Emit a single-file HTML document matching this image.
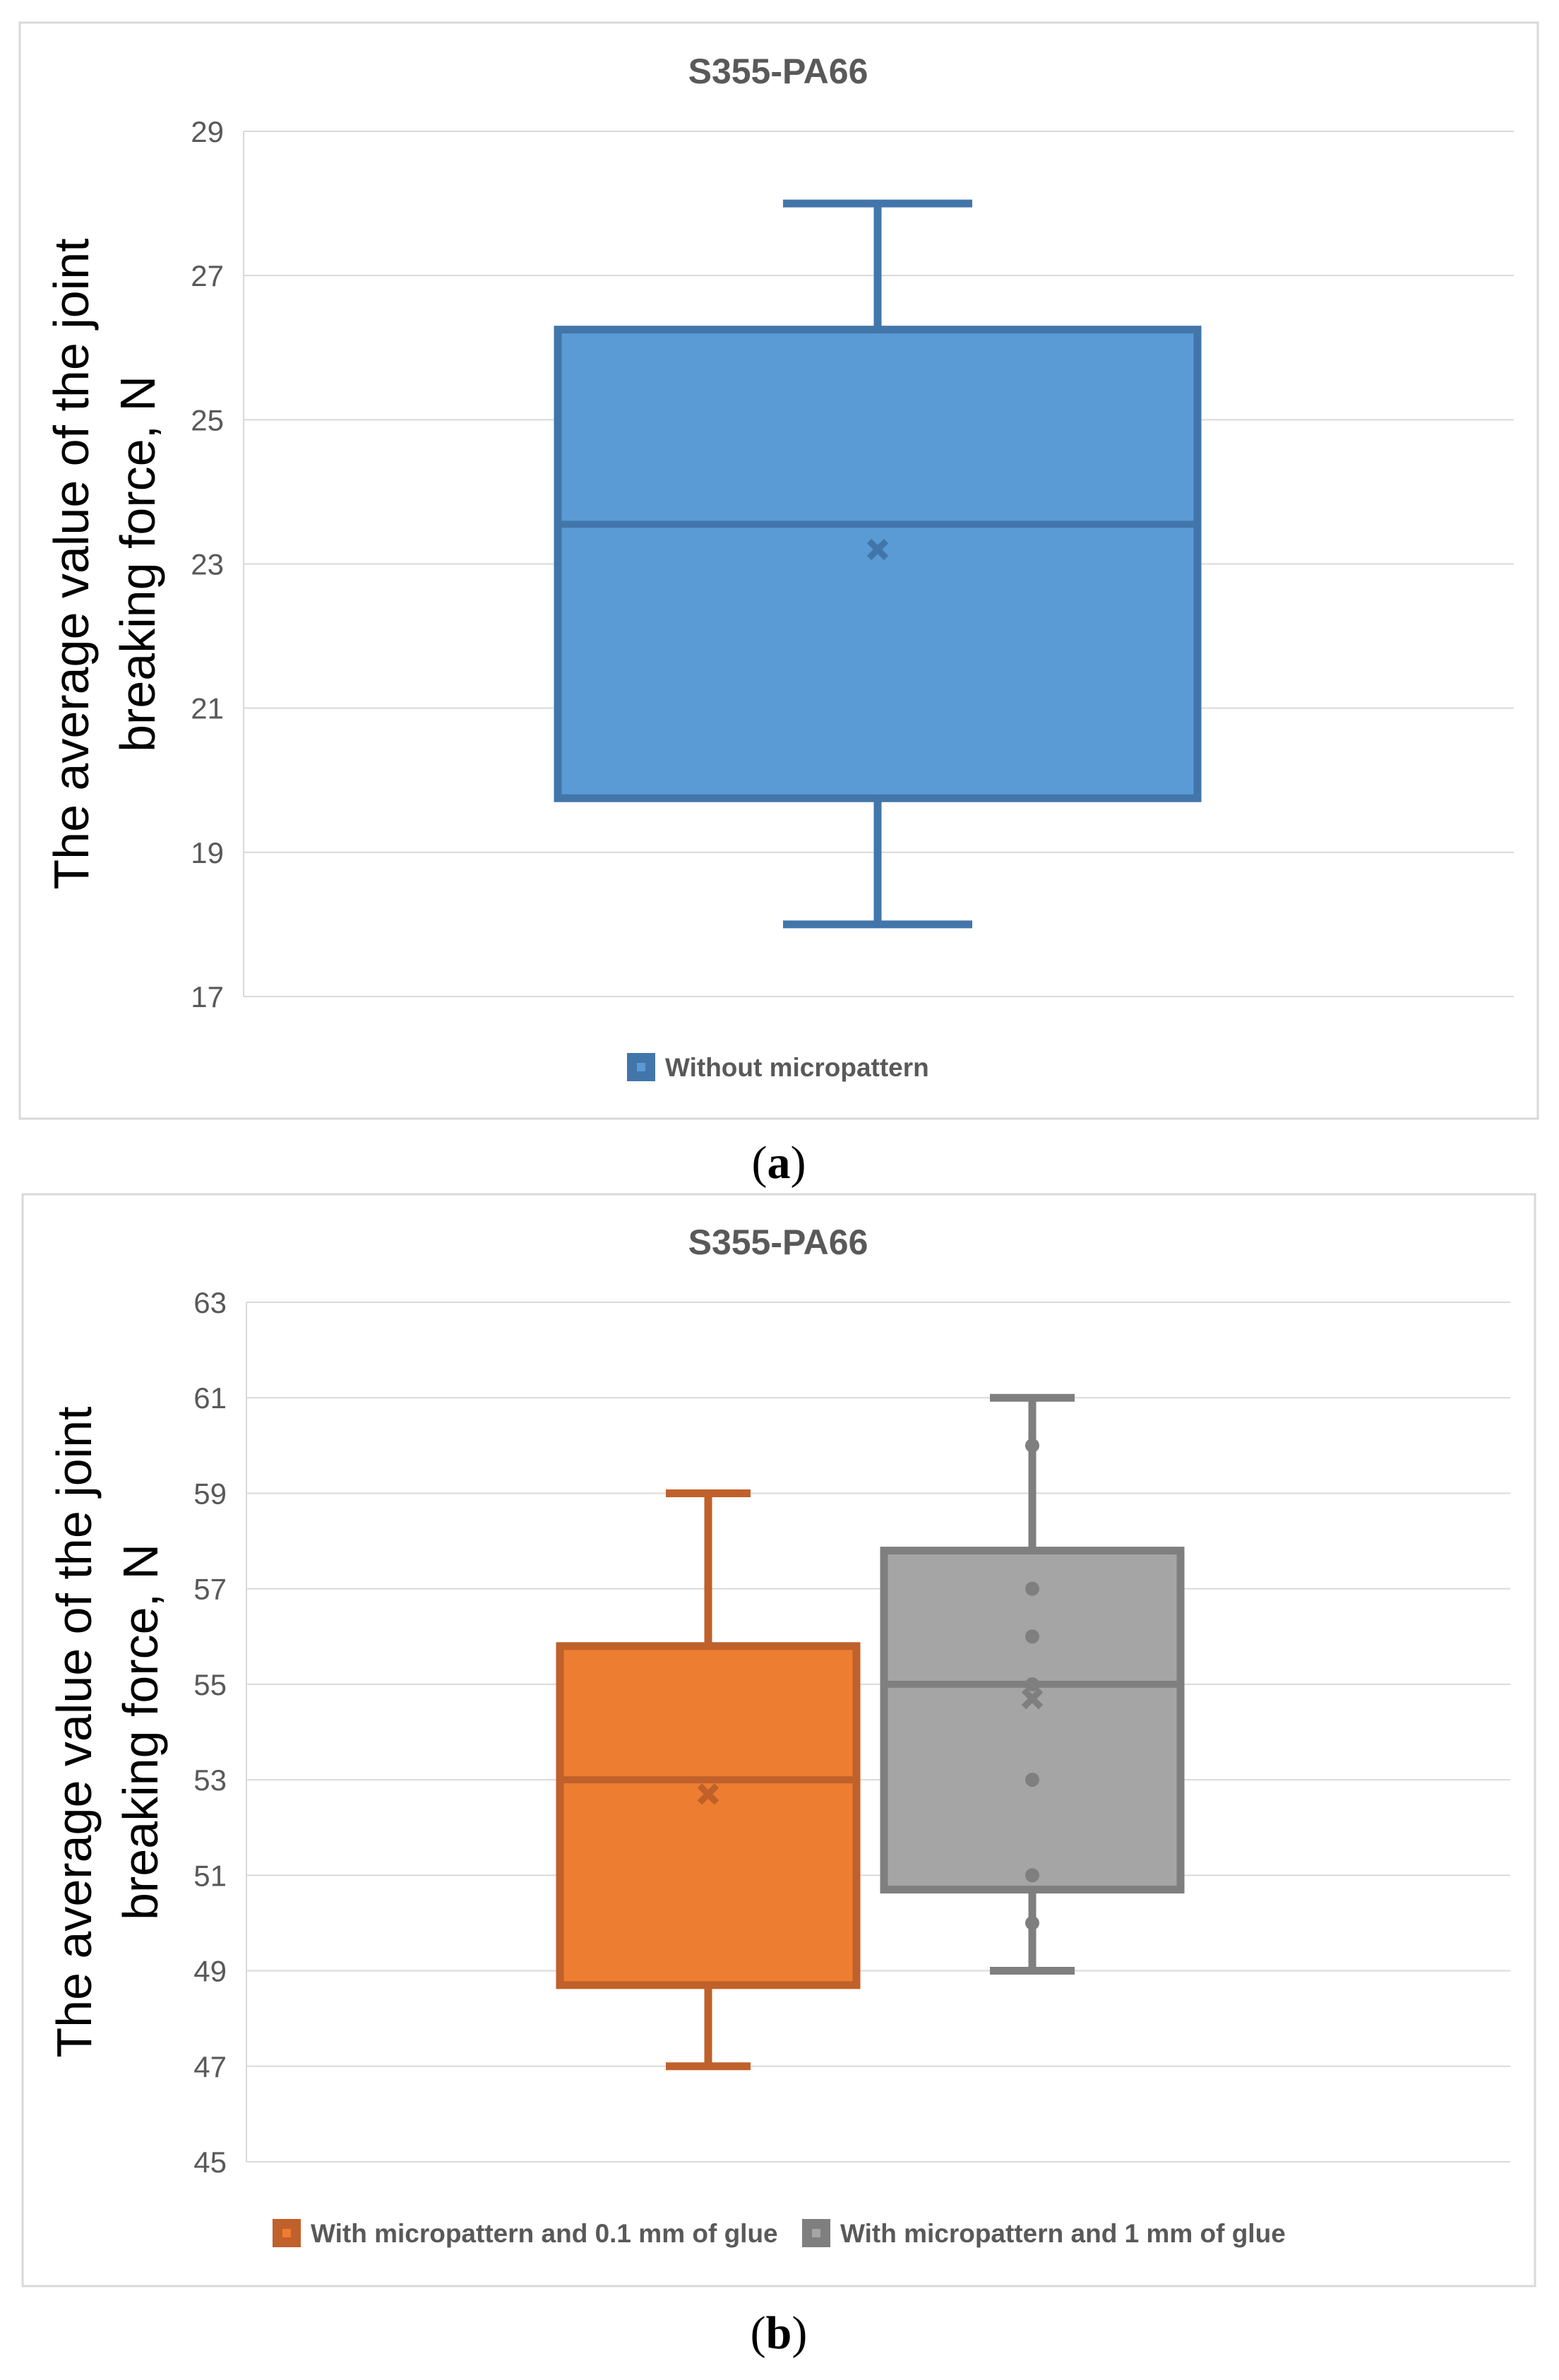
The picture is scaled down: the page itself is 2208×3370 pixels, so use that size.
<!DOCTYPE html>
<html><head><meta charset="utf-8"><style>
html,body{margin:0;padding:0;background:#fff;}
svg{display:block;font-family:"Liberation Sans",sans-serif;}
</style></head><body>
<svg id="fig" width="2208" height="3370" viewBox="0 0 2208 3370" xmlns="http://www.w3.org/2000/svg">
<g id="chartA"></g>
<g id="chartB"></g>
</svg>
<script>
// Chart A data
const ticksA = [17,19,21,23,25,27,29];
const catsA = ["Without micropattern"];
const q1A = [19.75], q3A = [26.25], medA = [23.55], meanA = [23.2], minA = [18], maxA = [28];
const ptsA = [[]];
// Chart B data
const ticksB = [45,47,49,51,53,55,57,59,61,63];
const catsB = ["With micropattern and 0.1 mm of glue","With micropattern and 1 mm of glue"];
const q1B = [48.7, 50.7], q3B = [55.8, 57.8], medB = [53, 55], meanB = [52.7, 54.7], minB = [47, 49], maxB = [59, 61];
const ptsB = [[], [60,57,56,55,53,51,50]];

const NS="http://www.w3.org/2000/svg";
function mk(parent, tag, attrs, text){
  const e=document.createElementNS(NS,tag);
  for(const k in attrs) e.setAttribute(k,attrs[k]);
  if(text!==undefined) e.textContent=text;
  parent.appendChild(e); return e;
}
function drawChart(g, cfg){
  const {frame, plot, ticks, cats, q1,q3,med,mean,mn,mx,pts, centers, boxW, capW, fills, strokes, title, titleY, legend, label, labelY, ytitleX} = cfg;
  const y0=ticks[0], y1=ticks[ticks.length-1];
  const yScale=v=>plot.b-(v-y0)/(y1-y0)*(plot.b-plot.t);
  let e=mk(g,'rect',{x:frame.x,y:frame.y,width:frame.w,height:frame.h,fill:'#fff',stroke:'#d9d9d9','stroke-width':3});
   
  e=mk(g,'text',{x:1102,y:titleY,'text-anchor':'middle','font-size':50,'font-weight':'bold',fill:'#595959','font-family':'"Liberation Sans Narrow","Liberation Sans",sans-serif'},title);
   
  ticks.forEach(t=>{
    const y=yScale(t);
    let l=mk(g,'line',{x1:plot.l,x2:plot.r,y1:y,y2:y,stroke:'#d9d9d9','stroke-width':2});
     
    let tx=mk(g,'text',{x:plot.l-28,y:y+15,'text-anchor':'end','font-size':42,fill:'#595959','font-family':'"Liberation Sans Narrow","Liberation Sans",sans-serif'},String(t));
     
  });
  let ax=mk(g,'line',{x1:plot.l,x2:plot.l,y1:plot.t,y2:plot.b,stroke:'#d9d9d9','stroke-width':2});
   
  const cy=(plot.t+plot.b)/2;
  let yt=mk(g,'text',{transform:`translate(${ytitleX},${cy}) rotate(-90)`,'text-anchor':'middle','font-size':70,fill:'#000'});
   
  mk(yt,'tspan',{x:0,dy:0},'The average value of the joint');
  mk(yt,'tspan',{x:0,dy:94},'breaking force, N');
  cats.forEach((c,i)=>{
    const cx=centers[i], s=strokes[i];
    const bg=mk(g,'g',{});
     
    let w1=mk(bg,'line',{x1:cx,x2:cx,y1:yScale(mx[i]),y2:yScale(q3[i]),stroke:s,'stroke-width':11});
     
    let w2=mk(bg,'line',{x1:cx,x2:cx,y1:yScale(q1[i]),y2:yScale(mn[i]),stroke:s,'stroke-width':11});
     
    let c1=mk(bg,'line',{x1:cx-capW/2,x2:cx+capW/2,y1:yScale(mx[i]),y2:yScale(mx[i]),stroke:s,'stroke-width':11});
     
    let c2=mk(bg,'line',{x1:cx-capW/2,x2:cx+capW/2,y1:yScale(mn[i]),y2:yScale(mn[i]),stroke:s,'stroke-width':11});
     
    let r=mk(bg,'rect',{x:cx-boxW/2,y:yScale(q3[i]),width:boxW,height:yScale(q1[i])-yScale(q3[i]),fill:fills[i],stroke:s,'stroke-width':11});
     
    let m=mk(bg,'line',{x1:cx-boxW/2,x2:cx+boxW/2,y1:yScale(med[i]),y2:yScale(med[i]),stroke:s,'stroke-width':10});
     
    pts[i].forEach(p=>{
      let d=mk(bg,'circle',{cx:cx,cy:yScale(p),r:10,fill:s});
       
    });
    const my=yScale(mean[i]);
    let mm=mk(bg,'path',{d:`M${cx-12},${my-12}L${cx+12},${my+12}M${cx+12},${my-12}L${cx-12},${my+12}`,stroke:s,'stroke-width':9});
     
  });
  legend.forEach((L,i)=>{
    const lg=mk(g,'g',{});
     
    mk(lg,'rect',{x:L.x,y:L.y-20,width:40,height:40,fill:strokes[i]});
    mk(lg,'rect',{x:L.x+14,y:L.y-6,width:12,height:12,fill:fills[i]});
    mk(lg,'text',{x:L.x+54,y:L.y+13,'font-size':37,'font-weight':'bold',fill:'#595959','font-family':'"Liberation Sans Narrow","Liberation Sans",sans-serif'},cats[i]);
  });
  let lb=mk(document.getElementById('fig'),'text',{x:1103,y:labelY,'text-anchor':'middle','font-size':66,'font-family':'"Liberation Serif",serif',fill:'#000'});
   
  mk(lb,'tspan',{},'(');
  mk(lb,'tspan',{'font-weight':'bold'},label);
  mk(lb,'tspan',{},')');
}
drawChart(document.getElementById('chartA'),{
  frame:{x:28,y:32,w:2150,h:1552}, plot:{l:345,r:2144,t:186,b:1411},
  ticks:ticksA, cats:catsA, q1:q1A,q3:q3A,med:medA,mean:meanA,mn:minA,mx:maxA,pts:ptsA,
  centers:[1243], boxW:906, capW:268, fills:['#5b9bd5'], strokes:['#4276aa'],
  title:'S355-PA66', titleY:118, legend:[{x:888,y:1511}], label:'a', labelY:1668, ytitleX:125
});
drawChart(document.getElementById('chartB'),{
  frame:{x:32,y:1691,w:2142,h:1546}, plot:{l:349,r:2139,t:1844,b:3061},
  ticks:ticksB, cats:catsB, q1:q1B,q3:q3B,med:medB,mean:meanB,mn:minB,mx:maxB,pts:ptsB,
  centers:[1003,1462], boxW:420, capW:120, fills:['#ed7d31','#a5a5a5'], strokes:['#c0602a','#7f7f7f'],
  title:'S355-PA66', titleY:1776, legend:[{x:386,y:3162},{x:1136,y:3162}], label:'b', labelY:3325, ytitleX:129
});
</script>
</body></html>
